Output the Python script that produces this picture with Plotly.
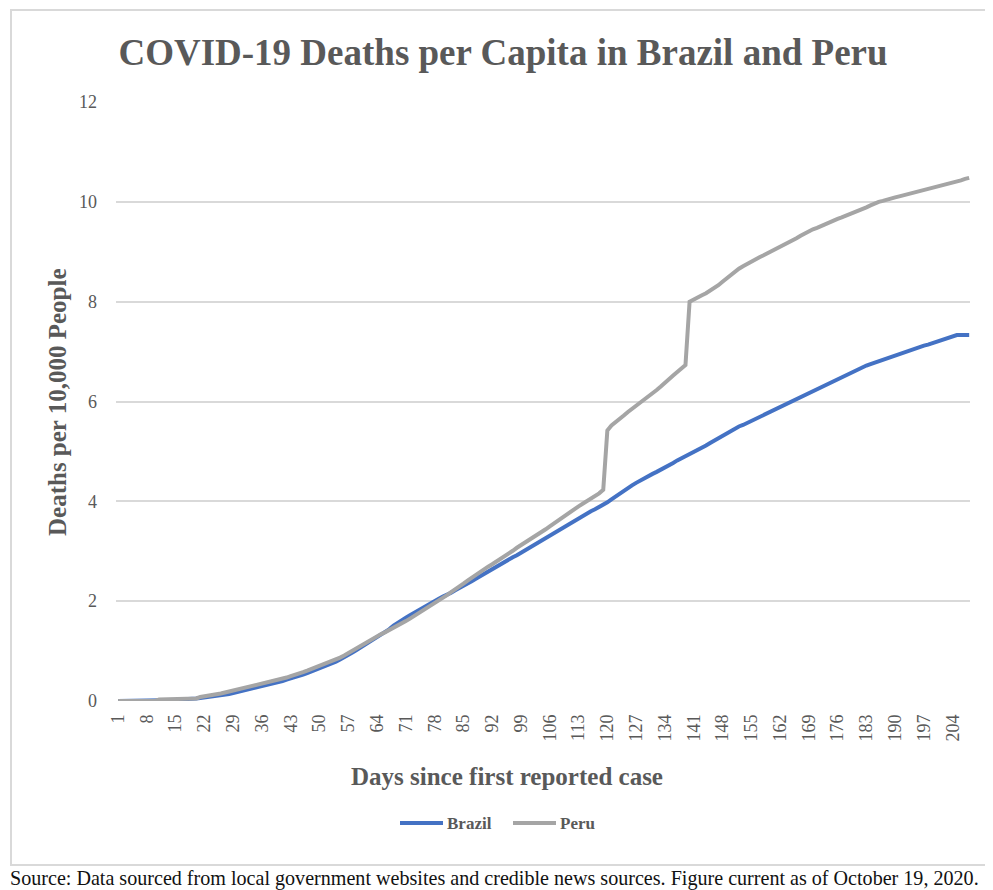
import plotly.graph_objects as go

# ---------------- data ----------------
days = list(range(1, 209))

brazil = [
    0, 0, 0, 0, 0, 0, 0, 0, 0.01, 0.01,
    0.01, 0.01, 0.02, 0.02, 0.02, 0.03, 0.03, 0.04, 0.04, 0.05,
    0.06, 0.07, 0.07, 0.08, 0.10, 0.11, 0.13, 0.14, 0.16, 0.18,
    0.19, 0.21, 0.23, 0.25, 0.27, 0.29, 0.31, 0.33, 0.35, 0.38,
    0.40, 0.43, 0.45, 0.48, 0.50, 0.53, 0.56, 0.59, 0.62, 0.65,
    0.68, 0.71, 0.75, 0.79, 0.83, 0.87, 0.92, 0.97, 1.02, 1.07,
    1.12, 1.17, 1.22, 1.27, 1.32, 1.38, 1.44, 1.51, 1.57, 1.62,
    1.67, 1.72, 1.77, 1.82, 1.87, 1.92, 1.97, 2.01, 2.05, 2.09,
    2.12, 2.17, 2.22, 2.26, 2.31, 2.35, 2.40, 2.45, 2.50, 2.55,
    2.60, 2.65, 2.70, 2.74, 2.79, 2.83, 2.88, 2.92, 2.97, 3.02,
    3.06, 3.11, 3.15, 3.20, 3.25, 3.30, 3.35, 3.40, 3.45, 3.50,
    3.55, 3.60, 3.65, 3.70, 3.75, 3.80, 3.84, 3.88, 3.93, 3.98,
    4.04, 4.10, 4.15, 4.21, 4.27, 4.32, 4.37, 4.42, 4.47, 4.51,
    4.55, 4.59, 4.63, 4.68, 4.72, 4.77, 4.82, 4.86, 4.90, 4.95,
    4.99, 5.03, 5.08, 5.12, 5.17, 5.22, 5.27, 5.32, 5.37, 5.42,
    5.46, 5.50, 5.53, 5.57, 5.61, 5.65, 5.69, 5.74, 5.78, 5.82,
    5.86, 5.90, 5.93, 5.96, 6.00, 6.04, 6.08, 6.12, 6.16, 6.20,
    6.25, 6.29, 6.33, 6.37, 6.41, 6.45, 6.49, 6.53, 6.57, 6.61,
    6.64, 6.68, 6.72, 6.75, 6.78, 6.81, 6.84, 6.87, 6.90, 6.93,
    6.95, 6.98, 7.01, 7.04, 7.06, 7.09, 7.12, 7.14, 7.17, 7.19,
    7.21, 7.24, 7.27, 7.30, 7.33, 7.33, 7.33, 7.33,
]

peru = [
    0, 0, 0, 0, 0, 0, 0, 0, 0, 0,
    0.03, 0.03, 0.03, 0.04, 0.04, 0.04, 0.04, 0.04, 0.04, 0.05,
    0.08, 0.09, 0.10, 0.12, 0.14, 0.15, 0.17, 0.19, 0.21, 0.22,
    0.24, 0.26, 0.28, 0.30, 0.32, 0.34, 0.36, 0.38, 0.40, 0.43,
    0.45, 0.47, 0.50, 0.52, 0.55, 0.58, 0.61, 0.64, 0.67, 0.70,
    0.73, 0.76, 0.80, 0.83, 0.87, 0.91, 0.96, 1.00, 1.05, 1.10,
    1.16, 1.21, 1.25, 1.30, 1.34, 1.38, 1.42, 1.46, 1.50, 1.55,
    1.60, 1.65, 1.70, 1.75, 1.80, 1.86, 1.91, 1.96, 2.02, 2.07,
    2.12, 2.18, 2.23, 2.29, 2.35, 2.41, 2.47, 2.52, 2.58, 2.63,
    2.69, 2.74, 2.79, 2.85, 2.90, 2.95, 3.01, 3.07, 3.12, 3.17,
    3.22, 3.28, 3.33, 3.38, 3.44, 3.50, 3.56, 3.62, 3.68, 3.74,
    3.80, 3.85, 3.90, 3.95, 4.00, 4.05, 4.10, 4.16, 4.23, 5.42,
    5.52, 5.58, 5.65, 5.72, 5.79, 5.85, 5.93, 5.99, 6.05, 6.11,
    6.17, 6.23, 6.30, 6.38, 6.45, 6.52, 6.59, 6.66, 6.73, 8.00,
    8.05, 8.09, 8.13, 8.17, 8.22, 8.27, 8.33, 8.40, 8.47, 8.54,
    8.60, 8.66, 8.71, 8.76, 8.80, 8.85, 8.89, 8.93, 8.97, 9.01,
    9.05, 9.09, 9.13, 9.18, 9.22, 9.27, 9.32, 9.37, 9.41, 9.45,
    9.48, 9.52, 9.55, 9.59, 9.62, 9.66, 9.69, 9.72, 9.75, 9.78,
    9.82, 9.85, 9.89, 9.93, 9.97, 10.00, 10.02, 10.05, 10.07, 10.09,
    10.11, 10.13, 10.15, 10.17, 10.19, 10.21, 10.23, 10.25, 10.27, 10.29,
    10.31, 10.33, 10.35, 10.37, 10.40, 10.43, 10.46, 10.48,
]

series_names = ["Brazil", "Peru"]
series_colors = ["#4472C4", "#A5A5A5"]

x_tick_vals = days[::7]
x_tick_labels = [str(d) for d in x_tick_vals]
y_tick_vals = [0, 2, 4, 6, 8, 10, 12]

title_text = "COVID-19 Deaths per Capita in Brazil and Peru"
y_title = "Deaths per 10,000 People"
x_title = "Days since first reported case"
source_text = ("Source: Data sourced from local government websites and credible news sources. "
               "Figure current as of October 19, 2020.")

# ---------------- layout geometry ----------------
# the page body adds an 8px margin, so the figure is shifted by OFF
OFF = 8
W, H = 993 - OFF, 890 - OFF
# plot area in reference (page) pixels
L_ref, R_ref, T_ref, B_ref = 116, 970, 102, 701
L, R, T, B = L_ref - OFF, R_ref - OFF, T_ref - OFF, B_ref - OFF
pw, ph = R - L, B - T


def px(x_ref):
    return (x_ref - OFF - L) / pw


def py(y_ref):
    return (B - (y_ref - OFF)) / ph


SERIF = "Liberation Serif, Times New Roman, serif"
GREY = "#595959"

fig = go.Figure()
for name, vals, col in zip(series_names, [brazil, peru], series_colors):
    fig.add_trace(go.Scatter(x=days, y=vals, name=name, mode="lines",
                             line=dict(color=col, width=4), showlegend=False))

fig.update_layout(
    width=W, height=H,
    margin=dict(l=L, r=W - R, t=T, b=H - B, pad=0),
    paper_bgcolor="white", plot_bgcolor="white",
    font=dict(family=SERIF, color=GREY),
    title=dict(text="<b>" + title_text + "</b>", xref="container", yref="container",
               x=(503 - OFF) / W, y=1 - (52 - OFF) / H, xanchor="center", yanchor="middle",
               font=dict(family=SERIF, size=37, color=GREY)),
    showlegend=False,
    xaxis=dict(range=[0.5, 208.2], tickmode="array", tickvals=x_tick_vals,
               ticktext=x_tick_labels, tickangle=-90, showgrid=False, zeroline=False,
               showline=False, ticks="", ticklabelstandoff=9,
               tickfont=dict(family=SERIF, size=18, color=GREY)),
    yaxis=dict(range=[0, 12], tickmode="array", tickvals=y_tick_vals, showgrid=True,
               gridcolor="#d9d9d9", gridwidth=2, zeroline=False, showline=False, ticks="",
               ticklabelstandoff=18, tickfont=dict(family=SERIF, size=18, color=GREY)),
)

fig.add_annotation(text="<b>" + y_title + "</b>", xref="paper", yref="paper",
                   x=px(57), y=py(402), textangle=-90, showarrow=False,
                   xanchor="center", yanchor="middle",
                   font=dict(family=SERIF, size=25, color=GREY))
fig.add_annotation(text="<b>" + x_title + "</b>", xref="paper", yref="paper",
                   x=px(507), y=py(776), showarrow=False,
                   xanchor="center", yanchor="middle",
                   font=dict(family=SERIF, size=25, color=GREY))
fig.add_annotation(text=source_text, xref="paper", yref="paper",
                   x=px(8), y=py(878), showarrow=False,
                   xanchor="left", yanchor="middle",
                   font=dict(family=SERIF, size=20.1, color="#111111"))

# legend (line swatch + bold label), laid out like the original
legend_starts = [400, 513]
for name, col, x0 in zip(series_names, series_colors, legend_starts):
    fig.add_shape(type="line", xref="paper", yref="paper",
                  x0=px(x0), x1=px(x0 + 43), y0=py(823), y1=py(823),
                  line=dict(color=col, width=4))
    fig.add_annotation(text="<b>" + name + "</b>", xref="paper", yref="paper",
                       x=px(x0 + 45), y=py(823), showarrow=False,
                       xanchor="left", yanchor="middle",
                       font=dict(family=SERIF, size=17, color=GREY))

# light frame around the chart
fig.add_shape(type="rect", xref="paper", yref="paper",
              x0=px(11), x1=px(993 + 20), y0=py(865), y1=py(10),
              fillcolor="rgba(0,0,0,0)", line=dict(color="#d9d9d9", width=2), layer="below")

fig.write_html("out.html")
